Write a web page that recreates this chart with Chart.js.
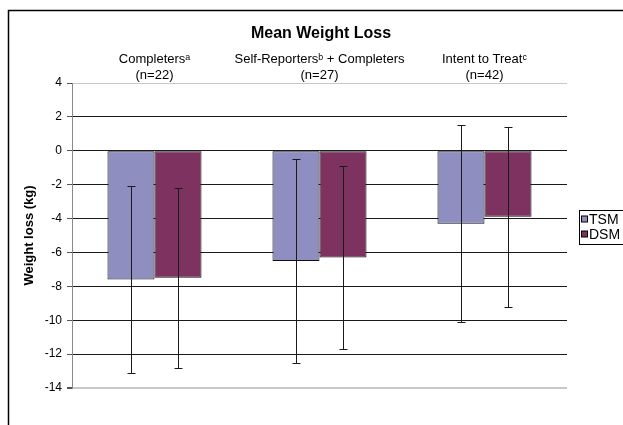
<!DOCTYPE html>
<html>
<head>
<meta charset="utf-8">
<script src="https://cdn.jsdelivr.net/npm/chart.js@4/dist/chart.umd.min.js"></script>
<style>
html,body{margin:0;padding:0;background:#fff;overflow:hidden;}
#wrap{position:relative;width:623px;height:425px;}
</style>
</head>
<body>
<div id="wrap"><canvas id="c" width="623" height="425"></canvas></div>
<script>
const chartTitle = "Mean Weight Loss";
const categories = [
  ["Completers\u1d43", "(n=22)"],
  ["Self-Reporters\u1d47 + Completers", "(n=27)"],
  ["Intent to Treat\u1d9c", "(n=42)"]
];
const seriesNames = ["TSM", "DSM"];
const tsmMean = [-7.6, -6.5, -4.3];
const dsmMean = [-7.5, -6.3, -3.9];
const tsmErrHigh = [-2.1, -0.5, 1.5];
const tsmErrLow = [-13.1, -12.5, -10.1];
const dsmErrHigh = [-2.2, -0.9, 1.4];
const dsmErrLow = [-12.8, -11.7, -9.2];
const yTicks = [4, 2, 0, -2, -4, -6, -8, -10, -12, -14];

const FONT = '"Liberation Sans", Arial, sans-serif';
const colors = ["#8E8EC0", "#7E3260"];
const errHigh = [tsmErrHigh, dsmErrHigh];
const errLow = [tsmErrLow, dsmErrLow];

const framePlugin = {
  id: 'frame',
  beforeDraw(chart) {
    const ctx = chart.ctx;
    ctx.save();
    ctx.strokeStyle = '#000';
    ctx.lineWidth = 1.5;
    ctx.strokeRect(8.5, 10.5, 800, 600);
    ctx.restore();
  },
  afterDraw(chart) {
    const ctx = chart.ctx;
    ctx.save();
    ctx.fillStyle = '#000';
    ctx.font = 'bold 16px ' + FONT;
    ctx.textAlign = 'center';
    ctx.textBaseline = 'middle';
    ctx.fillText(chartTitle, 321, 34);
    ctx.restore();
  }
};

const errorBarPlugin = {
  id: 'errorBars',
  afterDatasetsDraw(chart) {
    const ctx = chart.ctx;
    const y = chart.scales.y;
    ctx.save();
    chart.data.datasets.forEach((ds, di) => {
      const meta = chart.getDatasetMeta(di);
      meta.data.forEach((bar, i) => {
        const x = Math.round(bar.x) + 0.5;
        const yh = Math.round(y.getPixelForValue(errHigh[di][i])) + 0.5;
        const yl = Math.round(y.getPixelForValue(errLow[di][i])) + 0.5;
        ctx.strokeStyle = '#1a1a1a';
        ctx.lineWidth = 1;
        ctx.beginPath();
        ctx.moveTo(x, yh); ctx.lineTo(x, yl);
        ctx.moveTo(x - 4, yh); ctx.lineTo(x + 4, yh);
        ctx.moveTo(x - 4, yl); ctx.lineTo(x + 4, yl);
        ctx.stroke();
      });
    });
    ctx.restore();
  }
};

const legendPlugin = {
  id: 'customLegend',
  afterDraw(chart) {
    const ctx = chart.ctx;
    const left = chart.chartArea.right + 12;
    const top = 210;
    ctx.save();
    ctx.strokeStyle = '#000';
    ctx.lineWidth = 1;
    ctx.strokeRect(left + 0.5, top + 0.5, 80, 34);
    ctx.font = '14px ' + FONT;
    ctx.textBaseline = 'middle';
    ctx.textAlign = 'left';
    seriesNames.forEach((name, i) => {
      const cy = top + 9 + i * 15;
      ctx.fillStyle = colors[i];
      ctx.fillRect(left + 2.5, cy - 3, 6, 6);
      ctx.strokeStyle = '#000';
      ctx.strokeRect(left + 2.5, cy - 3, 6, 6);
      ctx.fillStyle = '#000';
      ctx.fillText(name, left + 10, cy + 1);
    });
    ctx.restore();
  }
};

new Chart(document.getElementById('c'), {
  type: 'bar',
  data: {
    labels: categories,
    datasets: seriesNames.map((name, i) => ({
      label: name,
      data: i === 0 ? tsmMean : dsmMean,
      backgroundColor: colors[i],
      borderColor: '#111',
      borderWidth: 1,
      borderSkipped: false,
      barPercentage: 1.0,
      categoryPercentage: 0.57
    }))
  },
  options: {
    responsive: false,
    animation: false,
    devicePixelRatio: 1,
    layout: { padding: { left: 10, right: 56, top: 50, bottom: 37 } },
    plugins: {
      legend: { display: false },
      tooltip: { enabled: false },
      title: { display: false }
    },
    scales: {
      x: {
        position: 'top',
        grid: { display: false, drawTicks: false },
        border: { display: false },
        ticks: {
          color: '#000',
          maxRotation: 0,
          autoSkip: false,
          padding: 0,
          font: { family: FONT, size: 13, lineHeight: '16px' }
        },
        afterFit(scale) { scale.height = 33; }
      },
      y: {
        min: -14,
        max: 4,
        afterBuildTicks(scale) { scale.ticks = yTicks.map(v => ({ value: v })); },
        ticks: {
          color: '#000',
          padding: 5,
          font: { family: FONT, size: 12 }
        },
        grid: {
          color: ctx => (ctx.tick && (ctx.tick.value === 4 || ctx.tick.value === -14)) ? '#c8c8c8' : '#1a1a1a',
          lineWidth: ctx => (ctx.tick && ctx.tick.value === -14) ? 2 : 1,
          tickColor: '#555',
          tickLength: 5
        },
        border: { display: true, color: '#888', width: 1 },
        title: {
          display: true,
          text: 'Weight loss (kg)',
          color: '#000',
          font: { family: FONT, size: 13, weight: 'bold' },
          padding: { top: 12, bottom: 0 }
        },
        afterFit(scale) { scale.width = 62; }
      }
    }
  },
  plugins: [framePlugin, errorBarPlugin, legendPlugin]
});
</script>
</body>
</html>
